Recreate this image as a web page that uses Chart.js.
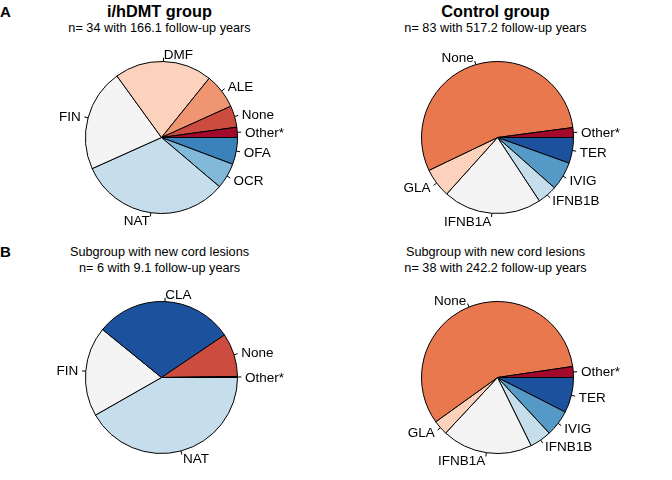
<!DOCTYPE html>
<html>
<head>
<meta charset="utf-8">
<script src="https://cdn.jsdelivr.net/npm/chart.js@4.4.1/dist/chart.umd.min.js"></script>
<style>
  html, body { margin: 0; padding: 0; background: #fff; }
  #wrap { position: relative; width: 672px; height: 480px; overflow: hidden; font-family: "Liberation Sans", Arial, sans-serif; color: #000; }
  canvas { position: absolute; }
  .t { position: absolute; white-space: nowrap; transform: translateX(-50%); }
  .title { font-weight: bold; font-size: 16.3px; line-height: 16.3px; }
  .sub { font-size: 12.7px; line-height: 12.7px; }
  .panel { position: absolute; font-weight: bold; font-size: 15px; line-height: 15px; }
</style>
</head>
<body>
<div id="wrap">
  <div class="panel" style="left:0px; top:4px;">A</div>
  <div class="panel" style="left:0px; top:244px;">B</div>

  <div class="t title" style="left:159.5px; top:3px;">i/hDMT group</div>
  <div class="t sub" style="left:159.5px; top:21.5px;">n= 34 with 166.1 follow-up years</div>

  <div class="t title" style="left:495.5px; top:3px;">Control group</div>
  <div class="t sub" style="left:495.5px; top:21.5px;">n= 83 with 517.2 follow-up years</div>

  <div class="t sub" style="left:159.5px; top:246px;">Subgroup with new cord lesions</div>
  <div class="t sub" style="left:159.5px; top:261.5px;">n= 6 with 9.1 follow-up years</div>

  <div class="t sub" style="left:495.5px; top:246px;">Subgroup with new cord lesions</div>
  <div class="t sub" style="left:495.5px; top:261.5px;">n= 38 with 242.2 follow-up years</div>

  <canvas id="c1" width="336" height="240" style="left:0;top:0;"></canvas>
  <canvas id="c2" width="336" height="240" style="left:336px;top:0;"></canvas>
  <canvas id="c3" width="336" height="240" style="left:0;top:240px;"></canvas>
  <canvas id="c4" width="336" height="240" style="left:336px;top:240px;"></canvas>
</div>
<script>
// Data listed counter-clockwise from 3 o'clock (as in the reference); values = follow-up years
const labelsA1 = ["Other*", "None", "ALE", "DMF", "FIN", "NAT", "OCR", "OFA"];
const valuesA1 = [3.6, 7.6, 12.4, 34.5, 36.1, 53.3, 9.1, 9.5];
const colorsA1 = ["#A3092A", "#CC4C3F", "#F09571", "#FCD2BC", "#F4F4F4", "#C6DEEC", "#82B8D8", "#3B81BA"];

const labelsA2 = ["Other*", "None", "GLA", "IFNB1A", "IFNB1B", "IVIG", "TER"];
const valuesA2 = [10.8, 284.6, 32.2, 108.3, 21.7, 31.3, 28.3];
const colorsA2 = ["#A3092A", "#E9784F", "#FCD2BC", "#F4F4F4", "#C6DEEC", "#5599C7", "#1C529D"];

const labelsB1 = ["Other*", "None", "CLA", "FIN", "NAT"];
const valuesB1 = [0.02, 0.84, 2.70, 1.74, 3.80];
const colorsB1 = ["#A3092A", "#CC4C3F", "#1C529D", "#F4F4F4", "#C6DEEC"];

const labelsB2 = ["Other*", "None", "GLA", "IFNB1A", "IFNB1B", "IVIG", "TER"];
const valuesB2 = [5.6, 139.5, 7.6, 46.6, 11.2, 13.5, 18.2];
const colorsB2 = ["#A3092A", "#E9784F", "#FCD2BC", "#F4F4F4", "#C6DEEC", "#5599C7", "#1C529D"];

const outsideLabels = {
  id: 'outsideLabels',
  afterDatasetsDraw(chart) {
    const ctx = chart.ctx;
    const meta = chart.getDatasetMeta(0);
    const labels = chart.data.labels;
    ctx.save();
    ctx.font = '13.5px "Liberation Sans", Arial, sans-serif';
    ctx.fillStyle = '#000';
    ctx.strokeStyle = '#000';
    ctx.lineWidth = 1;
    ctx.textBaseline = 'middle';
    meta.data.forEach((arc, i) => {
      const p = arc.getProps(['x', 'y', 'startAngle', 'endAngle', 'outerRadius'], true);
      const mid = (p.startAngle + p.endAngle) / 2;
      const c = Math.cos(mid), s = Math.sin(mid);
      const r = p.outerRadius;
      ctx.beginPath();
      ctx.moveTo(p.x + c * r, p.y + s * r);
      ctx.lineTo(p.x + c * r * 1.05, p.y + s * r * 1.05);
      ctx.stroke();
      ctx.textAlign = c >= 0 ? 'left' : 'right';
      ctx.fillText(labels[i], p.x + c * r * 1.1, p.y + s * r * 1.1 + 1);
    });
    ctx.restore();
  }
};

function makePie(id, labels, values, colors) {
  // Chart.js draws clockwise; reverse to get the counter-clockwise order of the reference
  const L = labels.slice().reverse();
  const V = values.slice().reverse();
  const C = colors.slice().reverse();
  new Chart(document.getElementById(id), {
    type: 'pie',
    data: { labels: L, datasets: [{ data: V, backgroundColor: C, borderColor: '#000', borderWidth: 1 }] },
    options: {
      responsive: false,
      animation: false,
      rotation: 90,
      layout: { padding: { left: 85, top: 61, right: 98, bottom: 26 } },
      plugins: { legend: { display: false }, tooltip: { enabled: false }, title: { display: false } }
    },
    plugins: [outsideLabels]
  });
}

makePie('c1', labelsA1, valuesA1, colorsA1);
makePie('c2', labelsA2, valuesA2, colorsA2);
makePie('c3', labelsB1, valuesB1, colorsB1);
makePie('c4', labelsB2, valuesB2, colorsB2);
</script>
</body>
</html>
